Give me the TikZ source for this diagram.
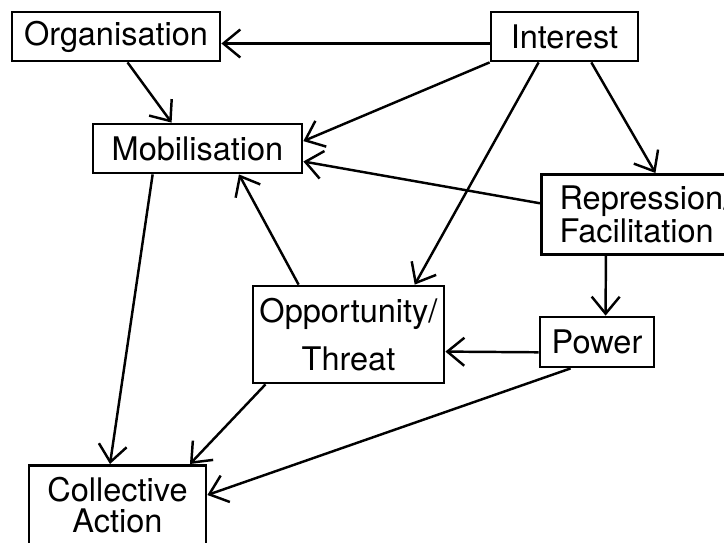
\documentclass[tikz,border=0pt]{standalone}
\usepackage{fontspec}
\setmainfont{TeX Gyre Heros}
\usetikzlibrary{arrows.meta}

\begin{document}
\begin{tikzpicture}[x=0.02cm, y=-0.02cm,
  box/.style={draw, line width=1.6pt, font=\fontsize{18.5}{19}\selectfont, inner sep=0pt, minimum height=0.98cm},
  arr/.style={-{Straight Barb[length=3.4mm,width=5.6mm]}, line width=1.4pt}]
  \clip (0,0) rectangle (724,542);
  \node[box, minimum width=4.16cm] (org) at (116,36.5) {Organisation};
  \node[box, minimum width=2.94cm] (interest) at (564.5,36.5) {Interest};
  \node[box, minimum width=4.18cm] (mob) at (197.5,148.5) {Mobilisation};
  \node[box, minimum width=4.18cm, minimum height=1.6cm, align=left, anchor=north west] (repr) at (540,173) {Repression/\\Facilitation};
  \node[box, minimum width=2.28cm, minimum height=1cm] (power) at (597,342) {Power};
  \node[box, minimum width=3.82cm, minimum height=1.94cm, align=center] (opp) at (348.5,334.5) {Opportunity/\\[8pt]Threat};
  \node[box, minimum width=3.54cm, inner ysep=7pt, text depth=1cm, align=center, anchor=north] (coll) at (117.5,464) {Collective\\[-1.5pt]Action};

  \draw[arr] ([yshift=-0.14cm]interest.west) -- ([yshift=-0.14cm]org.east);
  \draw[arr] (org.-66) -- (mob.135);
  \draw[arr] (interest.south west) -- (mob.4);
  \draw[arr] (repr.174) -- (mob.-7);
  \draw[arr] (interest.-135) -- (opp.37);
  \draw[arr] (interest.-44) -- (repr.77);
  \draw[arr] (repr.-134.6) -- (power.72);
  \draw[arr] (power.-170) -- (opp.-10.4);
  \draw[arr] (opp.135) -- (mob.-32);
  \draw[arr] (mob.-150) -- ([xshift=-0.15cm]coll.north);
  \draw[arr] (opp.-149.2) -- ([xshift=1.45cm]coll.north);
  \draw[arr] (power.-135) -- ([yshift=-0.62cm]coll.north east);
\end{tikzpicture}
\end{document}
